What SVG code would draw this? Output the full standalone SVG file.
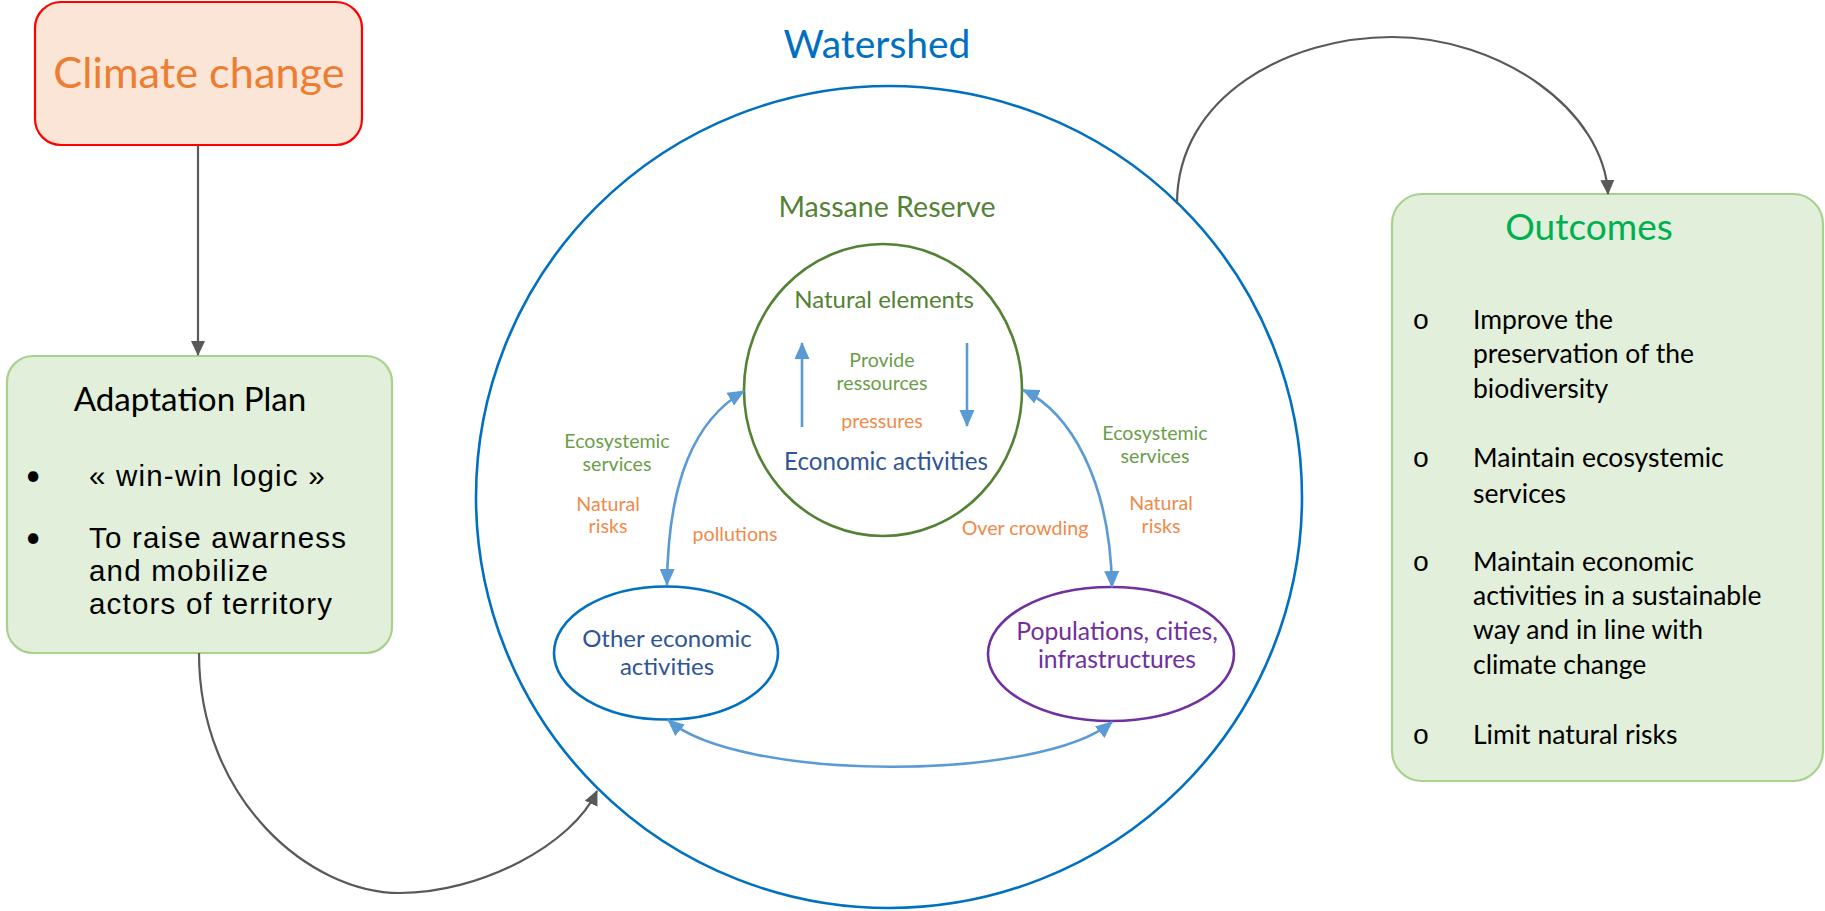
<svg xmlns="http://www.w3.org/2000/svg" width="1825" height="911" viewBox="0 0 1825 911">
<style>
text{font-family:Lato,"Liberation Sans",sans-serif}
.gray{fill:none;stroke:#595959;stroke-width:2.2}
.blue{fill:none;stroke:#5B9BD5;stroke-width:2.6}
.box{fill:#E2EFDA;stroke:#A9D18E;stroke-width:2.2}
.lg{fill:#6A9E48;font-size:19.6px;text-anchor:middle}
.lo{fill:#F08A4B;font-size:19.6px;text-anchor:middle}
.blk{fill:#000;font-size:29.5px;font-family:"Liberation Sans",Arial,sans-serif;letter-spacing:1.2px}
.out{fill:#000;font-size:26.5px}
.ob{fill:#000;font-size:28px;font-family:"Liberation Mono",monospace}
</style>
<defs>
<marker id="ga" markerUnits="userSpaceOnUse" markerWidth="16" markerHeight="16" viewBox="0 0 16 16" refX="14" refY="8" orient="auto"><path d="M0,1 L15,8 L0,15 Z" fill="#595959"/></marker>
<marker id="ba" markerUnits="userSpaceOnUse" markerWidth="18" markerHeight="18" viewBox="0 0 18 18" refX="16" refY="9" orient="auto-start-reverse"><path d="M0,1.5 L17,9 L0,16.5 Z" fill="#5B9BD5"/></marker>
</defs>

<g id="watershed">
<ellipse cx="889" cy="497" rx="413" ry="411" fill="none" stroke="#0070C0" stroke-width="2.6"/>
<text x="877" y="58" font-size="39" fill="#0070C0" text-anchor="middle">Watershed</text>
<text x="887" y="217" font-size="28.6" fill="#548235" text-anchor="middle">Massane Reserve</text>
</g>

<g id="climate-change">
<rect x="35" y="2" width="327" height="143" rx="26" fill="#FBE5D6" stroke="#FF0000" stroke-width="2.2"/>
<text x="199" y="88" font-size="43.3" fill="#ED7D31" text-anchor="middle">Climate change</text>
</g>

<g id="adaptation-plan">
<rect x="7" y="356" width="385" height="297" rx="26" class="box"/>
<text x="190" y="411" font-size="33.2" fill="#000" text-anchor="middle">Adaptation Plan</text>
<text x="33" y="485" font-size="28" fill="#000" text-anchor="middle">•</text>
<text x="89" y="486" class="blk">« win-win logic »</text>
<text x="33" y="547" font-size="28" fill="#000" text-anchor="middle">•</text>
<text class="blk"><tspan x="89" y="548">To raise awarness</tspan><tspan x="89" y="581">and mobilize</tspan><tspan x="89" y="614">actors of territory</tspan></text>
</g>

<g id="natural-elements">
<ellipse cx="883" cy="390" rx="139" ry="146" fill="none" stroke="#548235" stroke-width="2.6"/>
<text x="884" y="308" font-size="24" fill="#548235" text-anchor="middle">Natural elements</text>
<text x="882" y="367" class="lg">Provide</text>
<text x="882" y="390" class="lg">ressources</text>
<text x="882" y="428" class="lo">pressures</text>
<text x="886" y="470" font-size="24.2" fill="#2F5597" text-anchor="middle">Economic activities</text>
</g>

<g id="other-economic-activities">
<ellipse cx="666" cy="653" rx="112" ry="66.5" fill="none" stroke="#0070C0" stroke-width="2.6"/>
<text x="667" y="647" font-size="24" fill="#2F5597" text-anchor="middle">Other economic</text>
<text x="667" y="675" font-size="24" fill="#2F5597" text-anchor="middle">activities</text>
</g>

<g id="populations">
<ellipse cx="1111" cy="654" rx="123" ry="67" fill="none" stroke="#7030A0" stroke-width="2.6"/>
<text x="1117" y="640" font-size="24.7" fill="#7030A0" text-anchor="middle">Populations, cities,</text>
<text x="1117" y="668" font-size="24.7" fill="#7030A0" text-anchor="middle">infrastructures</text>
</g>

<g id="outcomes">
<rect x="1392" y="194" width="431" height="587" rx="30" class="box"/>
<text x="1589" y="240" font-size="37" fill="#00B050" text-anchor="middle">Outcomes</text>
<text x="1421" y="329" class="ob" text-anchor="middle">o</text>
<text class="out"><tspan x="1473" y="329">Improve the</tspan><tspan x="1473" y="363">preservation of the</tspan><tspan x="1473" y="398">biodiversity</tspan></text>
<text x="1421" y="467" class="ob" text-anchor="middle">o</text>
<text class="out"><tspan x="1473" y="467">Maintain ecosystemic</tspan><tspan x="1473" y="503">services</tspan></text>
<text x="1421" y="571" class="ob" text-anchor="middle">o</text>
<text class="out"><tspan x="1473" y="571">Maintain economic</tspan><tspan x="1473" y="605">activities in a sustainable</tspan><tspan x="1473" y="639">way and in line with</tspan><tspan x="1473" y="674">climate change</tspan></text>
<text x="1421" y="744" class="ob" text-anchor="middle">o</text>
<text x="1473" y="744" class="out">Limit natural risks</text>
</g>

<g id="connectors">
<path class="gray" d="M198,146 L198,355" marker-end="url(#ga)"/>
<path class="gray" d="M199,653 C199,800 310,893 400,893 C480,893 572,845 597,791" marker-end="url(#ga)"/>
<path class="gray" d="M1177,204 C1177,95 1290,37 1392,37 C1500,37 1604,110 1608,194" marker-end="url(#ga)"/>
<path class="blue" d="M802,427 L802,343" marker-end="url(#ba)"/>
<path class="blue" d="M967,343 L967,426" marker-end="url(#ba)"/>
<path class="blue" d="M667,585 C668,480 695,420 744,391" marker-start="url(#ba)" marker-end="url(#ba)"/>
<path class="blue" d="M1023,390 C1070,412 1110,480 1112,587" marker-start="url(#ba)" marker-end="url(#ba)"/>
<path class="blue" d="M668,720 C740,782 1040,782 1112,722" marker-start="url(#ba)" marker-end="url(#ba)"/>
</g>

<g id="labels">
<text x="617" y="448" class="lg">Ecosystemic</text>
<text x="617" y="471" class="lg">services</text>
<text x="608" y="511" class="lo">Natural</text>
<text x="608" y="533" class="lo">risks</text>
<text x="735" y="541" class="lo">pollutions</text>
<text x="1155" y="440" class="lg">Ecosystemic</text>
<text x="1155" y="463" class="lg">services</text>
<text x="1161" y="510" class="lo">Natural</text>
<text x="1161" y="533" class="lo">risks</text>
<text x="1025" y="535" class="lo">Over crowding</text>
</g>
</svg>
